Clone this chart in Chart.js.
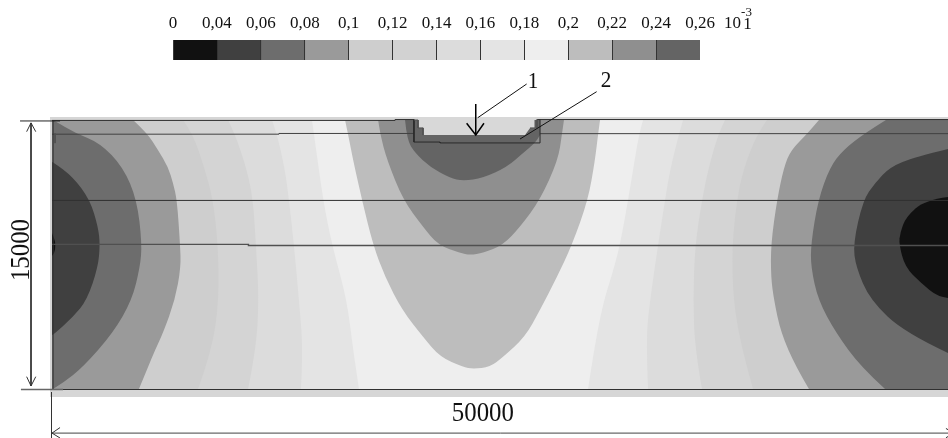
<!DOCTYPE html>
<html>
<head>
<meta charset="utf-8">
<script src="https://cdn.jsdelivr.net/npm/chart.js@4"></script>
<style>
  body { margin: 0; background: #fff; }
  #wrap { position: relative; width: 948px; height: 438px; overflow: hidden; }
  canvas { position: absolute; left: 0; top: 0; }
</style>
</head>
<body>
<div id="wrap">
  <canvas id="section" width="948" height="438"></canvas>
  <canvas id="scaleBar" width="948" height="70"></canvas>
</div>
<script>
// ==== Scale bar ====
const legendTicks = ['0', '0,04', '0,06', '0,08', '0,1', '0,12', '0,14', '0,16', '0,18', '0,2', '0,22', '0,24', '0,26'];
const legendColors = ['#111111', '#404040', '#6d6d6d', '#9a9a9a', '#cecece', '#d2d2d2', '#dcdcdc', '#e4e4e4', '#eeeeee', '#bdbdbd', '#8f8f8f', '#646464'];

// ==== Section outline, x / y along the 50000 x 15000 dimensions ====
const X_MIN = -2912, X_MAX = 50176;
const Y_MIN = -2744, Y_MAX = 21784;
const TOP = 15064;

const frameStrip = [[-112, -448], [50176, -448], [50176, 15232], [-112, 15232]];
const midBand = [[0, 0], [50176, 0], [50176, TOP], [0, TOP]];

// ---- left side contours ----
const leftE4 = [[0, TOP], [14560, TOP], [14670, 14280], [15180, 10580], [15680, 8060], [16520, 4980], [16860, 2180], [17190, 0], [0, 0]];
const leftDC = [[0, TOP], [12320, TOP], [12600, 14280], [13050, 12260], [13270, 10580], [13550, 8060], [13830, 4980], [14060, 2180], [13940, 0], [0, 0]];
const leftD2 = [[0, TOP], [9860, TOP], [10250, 14280], [10920, 12260], [11260, 10580], [11420, 8060], [11590, 4980], [11420, 2180], [10980, 0], [0, 0]];
const leftCE = [[0, TOP], [7340, TOP], [7900, 14280], [8570, 12260], [9020, 10580], [9300, 8060], [9350, 4980], [8960, 2180], [8180, 0], [0, 0]];
const left9A = [[0, TOP], [4540, TOP], [5320, 14340], [5940, 13380], [6500, 12430], [6780, 11540], [7000, 10580], [7170, 8120], [7220, 6830], [6890, 4980], [6220, 3140], [5770, 2180], [5380, 1230], [4870, 0], [0, 0]];
const left6D = [[0, TOP], [170, 15010], [1290, 14340], [2690, 13780], [3980, 12430], [4760, 10580], [5040, 8120], [4930, 6830], [4480, 4980], [3420, 3140], [1740, 1230], [620, 340], [60, 0], [0, 0]];
const left40 = [[0, 12710], [60, 12710], [1180, 11870], [2130, 10580], [2580, 9070], [2690, 8120], [2580, 6830], [1960, 4980], [1180, 4030], [60, 3020], [0, 3020]];
const leftCore = [[0, 8740], [140, 8400], [200, 8060], [140, 7600], [0, 7450]];

// ---- right side contours ----
const rightE4 = [[50176, TOP], [33100, TOP], [32870, 14280], [32540, 12260], [32260, 10580], [31810, 8060], [31360, 6380], [30910, 4980], [30410, 2580], [30020, 0], [50176, 0]];
const rightDC = [[50176, TOP], [35340, TOP], [35110, 14280], [34610, 12260], [34330, 10580], [33940, 8060], [33490, 4980], [33260, 2740], [33380, 0], [50176, 0]];
const rightD2 = [[50176, TOP], [37690, TOP], [37300, 14280], [36740, 12260], [36400, 10580], [36010, 8060], [35900, 4980], [36010, 2180], [36400, 0], [50176, 0]];
const rightCE = [[50176, TOP], [40040, TOP], [39480, 14280], [38700, 12260], [38360, 10580], [38080, 8060], [38140, 4980], [38640, 2180], [39260, 0], [50176, 0]];
const right9A = [[50176, TOP], [42950, TOP], [42340, 14340], [41380, 13380], [40990, 12430], [40600, 10580], [40260, 8120], [40260, 6270], [40430, 4980], [40820, 3140], [41660, 1230], [42390, 0], [50176, 0]];
const right6D = [[50176, TOP], [46700, TOP], [45530, 14340], [44300, 13380], [43570, 12430], [42900, 10580], [42500, 8120], [42500, 6830], [42900, 4980], [43900, 3140], [45300, 1230], [46650, 0], [50176, 0]];
const right40 = [[50176, 13440], [48330, 12990], [46930, 12430], [46090, 11540], [45420, 10580], [44860, 8120], [45020, 6830], [45810, 4980], [47770, 3140], [50176, 2020]];
const rightCore = [[50176, 10750], [48890, 10580], [47820, 9630], [47490, 8740], [47430, 8120], [47770, 6830], [48660, 5940], [49620, 5150], [50176, 5100]];

// ---- contours under the groove ----
const underBD = [[16410, TOP], [16580, 14280], [16860, 12820], [17360, 10580], [17980, 8060], [18650, 6270], [19600, 4420], [20780, 2910], [21730, 1790], [23020, 1230], [23580, 1120], [24530, 1230], [25260, 1790], [26490, 2910], [27330, 4420], [28280, 6270], [29120, 8060], [30020, 10580], [30410, 12820], [30580, 14280], [30690, TOP]];
const under8F = [[18260, TOP], [18370, 14280], [18760, 12820], [19660, 10580], [20780, 9070], [21620, 8060], [22850, 7620], [23410, 7500], [24140, 7620], [25260, 8060], [26210, 9070], [27330, 10580], [28340, 12820], [28560, 14280], [28670, TOP]];
const under64 = [[19770, TOP], [19880, 13940], [20330, 13220], [21170, 12430], [22290, 11820], [23020, 11650], [24140, 11820], [25480, 12430], [26380, 13220], [27050, 13780], [27330, 14220], [27330, 14220], [27330, TOP]];
const groove = [[20500, 15232], [20500, 14620], [20780, 14620], [20780, 14220], [26490, 14220], [26770, 14620], [27050, 14620], [27050, 15232]];

// ---- layer lines ----
const topLineLeft = [[0, 15040], [19210, 15040], [19210, 15090], [20270, 15090]];
const topLineRight = [[27160, 15090], [50176, 15090]];
const layer1Left = [[0, 14270], [12710, 14270], [12710, 14310], [20270, 14310]];
const layer1Right = [[27330, 14300], [50176, 14300]];
const layer2 = [[0, 10560], [50176, 10560]];
const layer3 = [[0, 8100], [11000, 8100], [11000, 8040], [50176, 8040]];
const baseLine = [[0, -28], [50176, -28]];
const sideLine = [[60, -28], [60, 15040]];
const sideInner = [[170, 14310], [170, 13770]];
const grooveOuter = [[20270, 15090], [20270, 13830], [21730, 13830], [21730, 13780], [27330, 13780], [27330, 15090]];
const grooveInnerRight = [[27160, 15090], [27160, 14620]];
const stairLeft = [[20270, 15064], [20500, 15064], [20500, 14620], [20780, 14620], [20780, 14220]];
const stairRight = [[26770, 14620], [27050, 14620], [27050, 15064]];

// ---- dimension lines and leaders ----
const dimTopExt = [[-1790, 15010], [450, 15010]];
const dimBaseExt = [[-1740, -28], [620, -28]];
const dimV = [[-1176, 14900], [-1176, 170]];
const dimVTop = [[-1420, 14410], [-1176, 14900], [-910, 14410]];
const dimVBase = [[-1420, 690], [-1176, 170], [-910, 690]];
const dimHExt = [[-28, -170], [-28, -2744]];
const dimH = [[0, -2470], [50500, -2470]];
const dimHLeft = [[450, -2160], [0, -2470], [450, -2744]];
const dimHRight = [[50060, -2210], [50510, -2470], [50060, -2730]];
const leader1 = [[26580, 17080], [23840, 15190]];
const leader2 = [[30500, 16650], [26210, 14000]];
const arrow1 = [[23730, 15960], [23730, 14230]];
const arrow1Head = [[23220, 14880], [23730, 14230], [24190, 14880]];

const dimLabels = ['1', '2', '50000', '15000'];
const dimLabelX = [26940, 31020, 24130, -1710];
const dimLabelY = [17190, 17250, -1380, 7780];
const dimLabelAngle = [0, 0, 0, -90];
const dimLabelSize = [23, 23, 27, 27];

// painter's order, later entries cover earlier ones
const regions = [
  [frameStrip, '#d6d6d6', false], [midBand, '#eeeeee', false],
  [leftE4, '#e4e4e4', true], [leftDC, '#dcdcdc', true], [leftD2, '#d4d4d4', true], [leftCE, '#cecece', true],
  [left9A, '#9a9a9a', true], [left6D, '#6d6d6d', true], [left40, '#404040', true], [leftCore, '#111111', true],
  [rightE4, '#e4e4e4', true], [rightDC, '#dcdcdc', true], [rightD2, '#d4d4d4', true], [rightCE, '#cecece', true],
  [right9A, '#9a9a9a', true], [right6D, '#6d6d6d', true], [right40, '#404040', true], [rightCore, '#111111', true],
  [underBD, '#bdbdbd', true], [under8F, '#8f8f8f', true], [under64, '#646464', true], [groove, '#d8d8d8', false]
];

const lines = [
  [topLineLeft, '#303030', 1], [topLineRight, '#303030', 1],
  [layer1Left, '#404040', 1], [layer1Right, '#404040', 1],
  [layer2, '#303030', 1], [layer3, '#505050', 1.4],
  [baseLine, '#303030', 1], [sideLine, '#303030', 1], [sideInner, '#505050', 1],
  [grooveOuter, '#2a2a2a', 1], [grooveInnerRight, '#505050', 1],
  [stairLeft, '#505050', 1], [stairRight, '#505050', 1],
  [dimTopExt, '#222222', 1], [dimBaseExt, '#666666', 1.6],
  [dimV, '#333333', 1], [dimVTop, '#333333', 1], [dimVBase, '#333333', 1],
  [dimHExt, '#333333', 1], [dimH, '#444444', 1], [dimHLeft, '#333333', 1], [dimHRight, '#333333', 1],
  [leader1, '#111111', 1], [leader2, '#111111', 1],
  [arrow1, '#000000', 1.5], [arrow1Head, '#000000', 1.5]
];

// ---- Fill the closed contours, the scatter points only give the outline ----
function onFrame(p) {
  return p.x0 === 0 || p.x0 === X_MAX || p.y0 === 0 || p.y0 === TOP;
}

const polygonFill = {
  id: 'polygonFill',
  beforeDatasetDraw(chart, args) {
    const ds = chart.data.datasets[args.index];
    if (!ds.polygon) return;
    const pts = args.meta.data.map((p, i) => ({ x: p.x, y: p.y, x0: ds.data[i][0], y0: ds.data[i][1] }));
    const ctx = chart.ctx;
    ctx.save();
    ctx.beginPath();
    ctx.moveTo(pts[0].x, pts[0].y);
    for (let i = 1; i < pts.length; i++) {
      const p = pts[i];
      const next = pts[i + 1];
      if (!ds.smooth || !next || onFrame(p)) {
        ctx.lineTo(p.x, p.y);
      } else if (onFrame(next)) {
        ctx.quadraticCurveTo(p.x, p.y, next.x, next.y);
      } else {
        // round off the facets, curve through the segment midpoints
        ctx.quadraticCurveTo(p.x, p.y, (p.x + next.x) / 2, (p.y + next.y) / 2);
      }
    }
    ctx.closePath();
    ctx.fillStyle = ds.backgroundColor;
    ctx.fill();
    ctx.restore();
  }
};

const dimText = {
  id: 'dimText',
  afterDraw(chart) {
    const { ctx, scales } = chart;
    ctx.save();
    ctx.fillStyle = '#111111';
    ctx.textAlign = 'center';
    ctx.textBaseline = 'middle';
    dimLabels.forEach((t, i) => {
      ctx.save();
      ctx.font = dimLabelSize[i] + 'px "Liberation Serif"';
      ctx.translate(scales.x.getPixelForValue(dimLabelX[i]), scales.y.getPixelForValue(dimLabelY[i]));
      ctx.rotate(dimLabelAngle[i] * Math.PI / 180);
      ctx.scale(0.92, 1); // the scan is a little condensed
      ctx.fillText(t, 0, 0);
      ctx.restore();
    });
    ctx.restore();
  }
};

const regionSets = regions.map(([data, color, smooth]) => ({
  data, polygon: true, smooth, backgroundColor: color, showLine: false, pointRadius: 0
}));
const lineSets = lines.map(([data, color, width]) => ({
  data, borderColor: color, borderWidth: width, showLine: true, pointRadius: 0, tension: 0, fill: false
}));
// Chart.js paints low order last, so count down to keep the list order
const sectionSets = regionSets.concat(lineSets).map((d, i) => ({ ...d, order: -i }));

new Chart(document.getElementById('section'), {
  type: 'scatter',
  data: { datasets: sectionSets },
  plugins: [polygonFill, dimText],
  options: {
    responsive: false,
    animation: false,
    events: [],
    plugins: { legend: { display: false }, tooltip: { enabled: false } },
    scales: {
      x: { type: 'linear', display: false, min: X_MIN, max: X_MAX },
      y: { type: 'linear', display: false, min: Y_MIN, max: Y_MAX }
    }
  }
});

// ---- Scale bar chart ----
const unitText = {
  id: 'unitText',
  afterDraw(chart) {
    const { ctx, scales } = chart;
    const x10 = scales.x.getPixelForValue(12.74);
    ctx.save();
    ctx.fillStyle = '#111111';
    ctx.textAlign = 'center';
    ctx.textBaseline = 'middle';
    ctx.font = '17px "Liberation Serif"';
    ctx.fillText('10', x10, 24);
    ctx.fillText('1', x10 + 15, 25);
    ctx.font = '13px "Liberation Serif"';
    ctx.fillText('-3', x10 + 14, 13);
    ctx.restore();
  }
};

new Chart(document.getElementById('scaleBar'), {
  type: 'bar',
  data: {
    labels: [''],
    datasets: legendColors.map(c => ({ data: [1], backgroundColor: c, barPercentage: 1, categoryPercentage: 1 }))
  },
  plugins: [unitText],
  options: {
    indexAxis: 'y',
    responsive: false,
    animation: false,
    events: [],
    layout: { padding: { left: 173, right: 248, top: 0, bottom: 10 } },
    plugins: { legend: { display: false }, tooltip: { enabled: false } },
    scales: {
      x: {
        type: 'linear', position: 'top', stacked: true, min: 0, max: 12,
        afterFit: (scale) => { scale.height = 40; },
        border: { display: false },
        grid: {
          drawTicks: false,
          z: 1,
          color: (c) => (c.index >= 2 && c.index <= 11 ? '#333333' : 'rgba(0,0,0,0)')
        },
        ticks: {
          stepSize: 1, autoSkip: false, maxRotation: 0, padding: 6, color: '#111111',
          font: { family: '"Liberation Serif"', size: 17 },
          callback: (v) => legendTicks[v]
        }
      },
      y: { stacked: true, display: false }
    }
  }
});
</script>
</body>
</html>
